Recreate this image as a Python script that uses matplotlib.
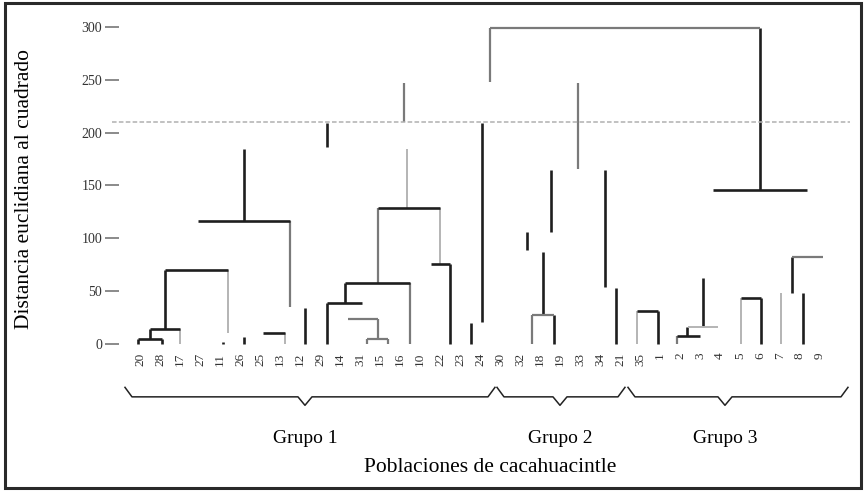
import matplotlib.pyplot as plt
from matplotlib.patches import Rectangle

# leaf labels (populations), read order left to right
leaf_labels = ["20", "28", "17", "27", "11", "26", "25", "13", "12", "29", "14", "31",
               "15", "16", "10", "22", "23", "24", "30", "32", "18", "19", "33", "34",
               "21", "35", "1", "2", "3", "4", "5", "6", "7", "8", "9"]

y_ticks = [0, 50, 100, 150, 200, 250, 300]
cut_height = 210

# dendrogram pieces as they show in the figure (x in leaf units, y in distance)
# vertical: (x, low, high, shade)
verticals = [
    (17.5, 248, 299, "g"), (31.0, 146, 299, "k"),
    (9.35, 186, 209, "k"), (13.2, 210, 247, "g"), (13.35, 129, 185, "l"),
    (11.9, 58, 129, "g"), (15.0, 76, 129, "l"), (17.1, 21, 209, "k"),
    (16.55, 0, 20, "k"), (5.2, 116, 185, "k"), (7.5, 35, 116, "g"),
    (1.25, 14, 70, "k"), (4.4, 10, 70, "l"), (0.5, 5, 14, "k"),
    (-0.1, 0, 5, "k"), (1.1, 0, 5, "k"), (2.0, 0, 14, "l"),
    (4.15, 0, 1.5, "k"), (5.2, 0, 7, "k"), (7.25, 0, 10, "l"),
    (8.25, 0, 34, "k"), (9.35, 0, 39, "k"), (10.25, 39, 58, "k"),
    (11.9, 5, 24, "g"), (11.35, 0, 5, "g"), (12.4, 0, 5, "g"),
    (13.5, 0, 58, "g"), (15.5, 0, 76, "k"),
    (19.35, 89, 106, "k"), (20.55, 106, 165, "k"), (20.15, 27, 87, "k"),
    (19.6, 0, 27, "g"), (20.7, 0, 27, "k"), (21.9, 166, 247, "g"),
    (23.25, 54, 165, "k"), (23.8, 0, 53, "k"),
    (24.85, 0, 31, "l"), (25.9, 0, 31, "k"),
    (28.15, 16, 62, "k"), (27.35, 8, 16, "k"), (26.85, 0, 8, "g"),
    (30.05, 0, 44, "l"), (31.05, 0, 44, "k"),
    (32.05, 0, 48, "l"), (33.15, 0, 48, "k"), (32.6, 48, 82, "k"),
]

# horizontal: (y, x_left, x_right, shade)
horizontals = [
    (299, 17.5, 31.0, "g"), (146, 28.65, 33.35, "k"),
    (129, 11.9, 15.0, "k"), (116, 2.9, 7.5, "k"), (70, 1.25, 4.4, "k"),
    (14, 0.5, 2.0, "k"), (5, -0.1, 1.1, "k"), (10, 6.15, 7.25, "k"),
    (39, 9.35, 11.1, "k"), (24, 10.4, 11.9, "g"), (5, 11.35, 12.4, "g"),
    (58, 10.25, 13.5, "k"), (76, 14.55, 15.5, "k"),
    (27, 19.6, 20.7, "g"), (31, 24.85, 25.9, "k"),
    (16, 27.4, 28.9, "l"), (8, 26.85, 28.0, "k"),
    (44, 30.05, 31.05, "k"), (82, 32.6, 34.15, "g"),
]

group_names = ["Grupo 1", "Grupo 2", "Grupo 3"]
group_left = [-0.75, 17.85, 24.4]
group_right = [17.75, 24.25, 35.4]
group_mid = [8.25, 21.0, 29.25]

shades = {"k": "#1e1e1e", "g": "#7a7a7a", "l": "#b4b4b4"}
widths = {"k": 1.9, "g": 1.6, "l": 1.4}

plt.rcParams["font.family"] = ["Liberation Serif", "DejaVu Serif"]

fig = plt.figure(figsize=(8.66, 4.91), dpi=100)
ax = fig.add_axes([0.1293, 0.2929, 0.8522, 0.6586])
ax.set_xlim(-1.4, 35.5)
ax.set_ylim(-3, 303)

for x, lo, hi, s in verticals:
    ax.plot([x, x], [lo, hi], color=shades[s], lw=widths[s], solid_capstyle="butt")
for y, x0, x1, s in horizontals:
    ax.plot([x0, x1], [y, y], color=shades[s], lw=widths[s], solid_capstyle="butt")

ax.axhline(cut_height, color="#b0b0b0", lw=1.1, ls=(0, (3, 1.5)))

for side in ["top", "right", "bottom", "left"]:
    ax.spines[side].set_visible(False)

ax.set_yticks(y_ticks)
ax.set_yticklabels([str(t) for t in y_ticks], fontsize=10, color="#333333")
ax.tick_params(axis="y", direction="inout", length=10, width=1.2, color="#777777", pad=2)

ax.set_xticks(range(len(leaf_labels)))
ax.set_xticklabels(leaf_labels, rotation=90, fontsize=9.5, color="#333333")
ax.tick_params(axis="x", length=0, pad=4)

# braces under the leaves
for name, x0, x1, xm in zip(group_names, group_left, group_right, group_mid):
    bx = [x0, x0 + 0.35, xm - 0.35, xm, xm + 0.35, x1 - 0.35, x1]
    by = [-41, -50, -50, -58, -50, -50, -41]
    ax.plot(bx, by, color="#222222", lw=1.1, clip_on=False)
    ax.text(xm, -89, name, ha="center", va="center", fontsize=14)

ax.text(17.5, -117, "Poblaciones de cacahuacintle", ha="center", va="center", fontsize=15.5)
ax.set_ylabel("Distancia euclidiana al cuadrado", fontsize=15.5)
ax.yaxis.set_label_coords(-0.106, 0.49)

fig.patches.append(Rectangle((0.006, 0.006), 0.988, 0.988, transform=fig.transFigure,
                             fill=False, lw=2.2, ec="#2a2a2a"))

fig.savefig("out.png", dpi=100)
